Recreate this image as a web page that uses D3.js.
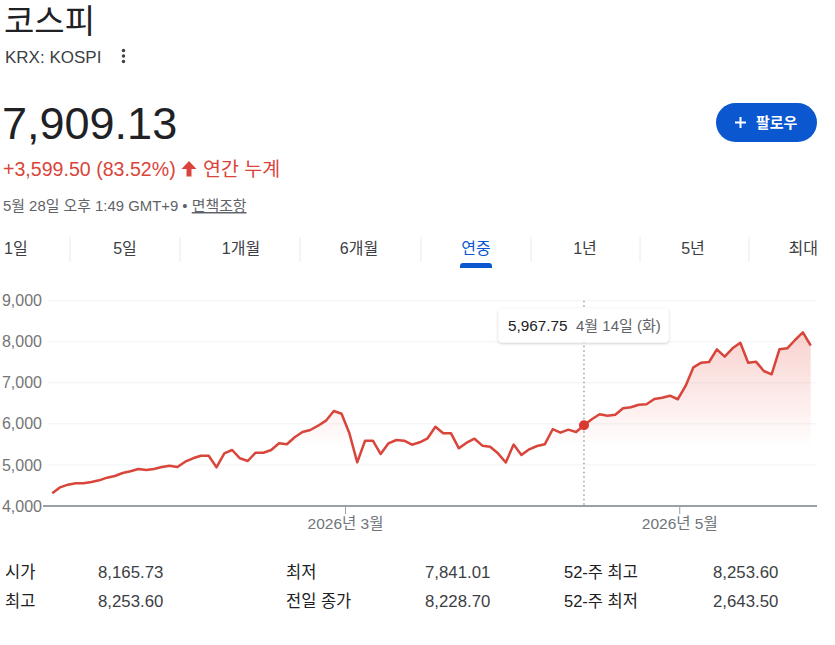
<!DOCTYPE html>
<html><head><meta charset="utf-8">
<script src="https://cdn.jsdelivr.net/npm/d3@7"></script>
<style>
html,body{margin:0;padding:0;background:#fff;}
svg{display:block;font-family:"Liberation Sans",Arial,"Noto Sans CJK KR",sans-serif;}
</style></head>
<body>
<svg id="c" width="835" height="645"></svg>
<script>
// ---- data ----
const closes = [
 4309.63,4455,4519,4552,4552,4585,4625,4690,4731,4804,
 4845,4901,4877,4901,4950,4981,4950,5079,5162,5225,
 5225,4942,5283,5364,5162,5096,5298,5298,5364,5527,
 5503,5673,5802,5851,5956,6078,6314,6248,5770,5064,
 5590,5590,5266,5527,5607,5590,5493,5551,5649,5931,
 5770,5770,5405,5542,5639,5469,5444,5283,5060,5495,
 5242,5381,5461,5506,5870,5785,5860,5802,5967.75,6112,
 6233,6200,6224,6379,6404,6467,6477,6606,6638,6686,
 6600,6923,7378,7490,7507,7816,7636,7840,7977,7490,
 7515,7288,7208,7816,7840,8043,8228.70,7909.13
];
const monthTicks = [{label:"2026년 3월", at:37.5},{label:"2026년 5월", at:80.25}];
const yTicks = [4000,5000,6000,7000,8000,9000];
const hoverIndex = 68;
const hoverDate = "4월 14일 (화)";
const tabs = ["1일","5일","1개월","6개월","연중","1년","5년","최대"];
const activeTab = "연중";
const statLabels1 = ["시가","최고"], statValues1 = ["8,165.73","8,253.60"];
const statLabels2 = ["최저","전일 종가"], statValues2 = ["7,841.01","8,228.70"];
const statLabels3 = ["52-주 최고","52-주 최저"], statValues3 = ["8,253.60","2,643.50"];
const title = "코스피", ticker = "KRX: KOSPI", price = "7,909.13";
const change = "+3,599.50 (83.52%)", changeLabel = "연간 누계";
const dateLine = "5월 28일 오후 1:49 GMT+9 • ", disclaimer = "면책조항";

// ---- drawing ----
const svg = d3.select("#c");
svg.append("rect").attr("width",835).attr("height",645).attr("fill","#fff");

const RED = "#d9453a";
// header
svg.append("text").attr("x",4).attr("y",33).attr("font-size",33).attr("fill","#202124").text(title);
svg.append("text").attr("x",5).attr("y",63).attr("font-size",17).attr("fill","#3c4043").text(ticker);
const keb = svg.append("g").attr("fill","#3c4043");
[50.5,56,61.5].forEach(cy=>keb.append("circle").attr("cx",123.5).attr("cy",cy).attr("r",1.7));
svg.append("text").attr("x",2).attr("y",139).attr("font-size",45).attr("fill","#202124").text(price);
svg.append("text").attr("x",3).attr("y",176).attr("font-size",19.6).attr("fill",RED).text(change);
svg.append("path").attr("d","M189,161 L196.5,169 L191.5,169 L191.5,176.5 L186.5,176.5 L186.5,169 L181.5,169 Z").attr("fill",RED);
svg.append("text").attr("x",203).attr("y",176).attr("font-size",19.5).attr("fill",RED).text(changeLabel);
const dl = svg.append("text").attr("x",3).attr("y",211).attr("font-size",14.9).attr("fill","#5f6368");
dl.append("tspan").text(dateLine);
dl.append("tspan").attr("text-decoration","underline").text(disclaimer);

// follow button
svg.append("rect").attr("x",716).attr("y",103).attr("width",101).attr("height",39).attr("rx",19.5).attr("fill","#0b57d0");
svg.append("path").attr("d","M735,122.5 H746 M740.5,117 V128").attr("stroke","#fff").attr("stroke-width",2);
svg.append("text").attr("x",756).attr("y",128).attr("font-size",15).attr("font-weight",700).attr("fill","#fff").text("팔로우");

// tabs
const tabCenters = [null,125,241,359,476,585,693,null];
const seps = [70,180,300,421,531,640,749];
seps.forEach(sx=>svg.append("line").attr("x1",sx).attr("x2",sx).attr("y1",237).attr("y2",262).attr("stroke","#e8eaed"));
tabs.forEach((t,i)=>{
  const el = svg.append("text").attr("y",254).attr("font-size",16)
    .attr("fill", t===activeTab ? "#0b57d0" : "#3c4043").text(t);
  if(i===0) el.attr("x",4);
  else if(i===tabs.length-1) el.attr("x",818).attr("text-anchor","end");
  else el.attr("x",tabCenters[i]).attr("text-anchor","middle");
  if(t===activeTab){
    svg.append("path").attr("d",`M${tabCenters[i]-16},268 V266 a3,3 0 0 1 3,-3 H${tabCenters[i]+13} a3,3 0 0 1 3,3 V268 Z`).attr("fill","#0b57d0");
  }
});

// chart
const x = d3.scaleLinear().domain([0, closes.length-1]).range([52.3, 810.7]);
const y = d3.scaleLinear().domain([4000, 9000]).range([506, 300.7]);

const defs = svg.append("defs");
const grad = defs.append("linearGradient").attr("id","fillg").attr("gradientUnits","userSpaceOnUse")
  .attr("x1",0).attr("x2",0).attr("y1",y(8300)).attr("y2",y(5400));
grad.append("stop").attr("offset",0).attr("stop-color","#e8655a").attr("stop-opacity",0.3);
grad.append("stop").attr("offset",1).attr("stop-color","#e8655a").attr("stop-opacity",0);

const grid = svg.append("g");
yTicks.filter(v=>v>4000).forEach(v=>{
  grid.append("line").attr("x1",48).attr("x2",816).attr("y1",y(v)).attr("y2",y(v)).attr("stroke","#f1f3f4");
});
const yl = svg.append("g").attr("font-size",16).attr("fill","#757575");
yTicks.forEach(v=>{
  yl.append("text").attr("x",42).attr("y",y(v)).attr("dy","0.35em").attr("text-anchor","end").text(d3.format(",")(v));
});

const area = d3.area().x((d,i)=>x(i)).y0(y(4000)).y1(d=>y(d));
svg.append("path").datum(closes).attr("d",area).attr("fill","url(#fillg)");

// axis line and month ticks
svg.append("line").attr("x1",43).attr("x2",817).attr("y1",y(4000)).attr("y2",y(4000)).attr("stroke","#9aa0a6").attr("stroke-width",2);
monthTicks.forEach(m=>{
  const mx = x(m.at);
  svg.append("line").attr("x1",mx).attr("x2",mx).attr("y1",y(4000)).attr("y2",y(4000)+8).attr("stroke","#9aa0a6").attr("stroke-width",1);
  svg.append("text").attr("x",mx).attr("y",529).attr("text-anchor","middle").attr("font-size",15.5).attr("fill","#70757a").text(m.label);
});

// hover line
const hx = x(hoverIndex);
svg.append("line").attr("x1",hx).attr("x2",hx).attr("y1",y(9000)).attr("y2",y(4000)).attr("stroke","#9aa0a6").attr("stroke-width",1.5).attr("stroke-dasharray","1.5,3");

const line = d3.line().x((d,i)=>x(i)).y(d=>y(d));
svg.append("path").datum(closes).attr("d",line).attr("fill","none").attr("stroke",RED).attr("stroke-width",2.5).attr("stroke-linejoin","round");
svg.append("circle").attr("cx",hx).attr("cy",y(closes[hoverIndex])).attr("r",5).attr("fill","#d93a2f");

// tooltip
const flt = defs.append("filter").attr("id","sh").attr("x","-20%").attr("y","-40%").attr("width","140%").attr("height","180%");
flt.append("feDropShadow").attr("dx",0).attr("dy",1).attr("stdDeviation",1.5).attr("flood-color","#000").attr("flood-opacity",0.22);
svg.append("rect").attr("x",498.5).attr("y",308.5).attr("width",170).attr("height",34).attr("rx",4).attr("fill","#fff").attr("filter","url(#sh)");
svg.append("text").attr("x",508).attr("y",331).attr("font-size",15.3).attr("fill","#202124").text(d3.format(",.2f")(closes[hoverIndex]));
svg.append("text").attr("x",576).attr("y",331).attr("font-size",15).attr("fill","#5f6368").text(hoverDate);

// stats
const cols = [[statLabels1,statValues1,5,98],[statLabels2,statValues2,286,425],[statLabels3,statValues3,564,713]];
cols.forEach(([ls,vs,lx,vx])=>{
  ls.forEach((l,i)=>svg.append("text").attr("x",lx).attr("y",578+i*29).attr("font-size",16.5).attr("fill","#202124").text(l));
  vs.forEach((v,i)=>svg.append("text").attr("x",vx).attr("y",578+i*29).attr("font-size",16.8).attr("fill","#3c4043").text(v));
});
</script>
</body></html>
